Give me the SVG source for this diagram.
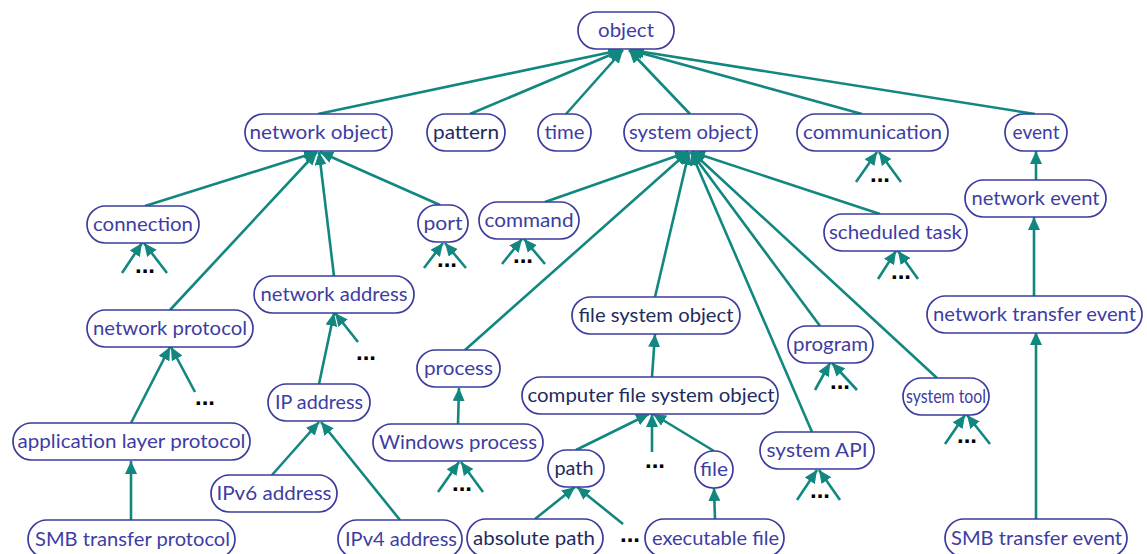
<svg xmlns="http://www.w3.org/2000/svg" width="1147" height="554" viewBox="0 0 1147 554">
  <style>
    .node rect { fill: #ffffff; stroke: #3b3b9e; stroke-width: 1.7; }
    .node text { font-family: Lato, "Open Sans", sans-serif; font-size: 20px; fill: #3d3da3; text-anchor: middle; }
    .node.dark text { fill: #1e2b5e; }
    .edges line { stroke: #12877f; stroke-width: 2.6; marker-end: url(#arrow); }
    .more { font-family: "Liberation Sans", sans-serif; font-size: 24px; font-weight: bold; fill: #000000; text-anchor: middle; }
  </style>
  <defs>
    <marker id="arrow" markerUnits="userSpaceOnUse" markerWidth="14" markerHeight="12" refX="13" refY="6" orient="auto">
      <path d="M0,0 L13,6 L0,12 z" fill="#12877f"/>
    </marker>
  </defs>
  <rect width="1147" height="554" fill="#ffffff"/>

  <g class="edges">
    <!-- to object -->
    <line x1="318" y1="114" x2="621" y2="50"/>
    <line x1="470" y1="114" x2="622" y2="50"/>
    <line x1="566" y1="114" x2="623" y2="50"/>
    <line x1="690" y1="114" x2="629" y2="50"/>
    <line x1="862" y1="114" x2="630" y2="50"/>
    <line x1="1035" y1="114" x2="631" y2="50"/>
    <!-- to network object -->
    <line x1="145" y1="206" x2="317" y2="152"/>
    <line x1="170" y1="310" x2="317" y2="152"/>
    <line x1="334" y1="276" x2="319" y2="152"/>
    <line x1="440" y1="205" x2="320" y2="152"/>
    <!-- to system object -->
    <line x1="545" y1="202" x2="688" y2="152"/>
    <line x1="465" y1="350" x2="688" y2="152"/>
    <line x1="655" y1="297" x2="689" y2="152"/>
    <line x1="820" y1="326" x2="691" y2="152"/>
    <line x1="812" y1="432" x2="691" y2="152"/>
    <line x1="937" y1="378" x2="692" y2="152"/>
    <line x1="880" y1="214" x2="692" y2="152"/>
    <!-- event chain -->
    <line x1="1036" y1="180" x2="1036" y2="151"/>
    <line x1="1034" y1="296" x2="1034" y2="217"/>
    <line x1="1036" y1="519" x2="1036" y2="332"/>
    <!-- network branch -->
    <line x1="131" y1="423" x2="170" y2="347"/>
    <line x1="195" y1="392" x2="171" y2="347"/>
    <line x1="131" y1="520" x2="131" y2="461"/>
    <line x1="319" y1="384" x2="334" y2="313"/>
    <line x1="358" y1="342" x2="335" y2="313"/>
    <line x1="272" y1="475" x2="319" y2="422"/>
    <line x1="400" y1="520" x2="321" y2="422"/>
    <!-- system branch -->
    <line x1="458" y1="424" x2="459" y2="388"/>
    <line x1="652" y1="377" x2="655" y2="334"/>
    <line x1="576" y1="450" x2="649" y2="414"/>
    <line x1="652" y1="452" x2="652" y2="414"/>
    <line x1="714" y1="451" x2="653" y2="414"/>
    <line x1="535" y1="519" x2="575" y2="487"/>
    <line x1="623" y1="524" x2="577" y2="487"/>
    <line x1="715" y1="519" x2="714" y2="488"/>
    <!-- open subtrees -->
    <line x1="122" y1="273" x2="142" y2="243"/>
    <line x1="167" y1="273" x2="144" y2="243"/>
    <line x1="424" y1="268" x2="443" y2="243"/>
    <line x1="466" y1="268" x2="445" y2="243"/>
    <line x1="502" y1="264" x2="522" y2="239"/>
    <line x1="545" y1="264" x2="524" y2="239"/>
    <line x1="856" y1="182" x2="877" y2="152"/>
    <line x1="901" y1="182" x2="879" y2="152"/>
    <line x1="878" y1="279" x2="896" y2="251"/>
    <line x1="918" y1="279" x2="898" y2="251"/>
    <line x1="815" y1="390" x2="830" y2="363"/>
    <line x1="857" y1="390" x2="832" y2="363"/>
    <line x1="945" y1="444" x2="965" y2="415"/>
    <line x1="990" y1="444" x2="967" y2="415"/>
    <line x1="438" y1="492" x2="459" y2="462"/>
    <line x1="483" y1="492" x2="461" y2="462"/>
    <line x1="797" y1="500" x2="817" y2="470"/>
    <line x1="840" y1="500" x2="819" y2="470"/>
  </g>

  <g class="dots">
    <text class="more" x="145" y="273">...</text>
    <text class="more" x="447" y="267">...</text>
    <text class="more" x="523" y="263">...</text>
    <text class="more" x="880" y="182">...</text>
    <text class="more" x="901" y="279">...</text>
    <text class="more" x="366" y="360">...</text>
    <text class="more" x="205" y="405">...</text>
    <text class="more" x="840" y="389">...</text>
    <text class="more" x="967" y="443">...</text>
    <text class="more" x="462" y="491">...</text>
    <text class="more" x="820" y="498">...</text>
    <text class="more" x="655" y="468">...</text>
    <text class="more" x="630" y="542">...</text>
  </g>

  <g id="object" class="node"><rect x="578" y="12" width="96" height="37" rx="18.5"/><text x="626" y="37" textLength="56" lengthAdjust="spacingAndGlyphs">object</text></g>
  <g id="network-object" class="node"><rect x="245" y="114" width="147" height="37" rx="18.5"/><text x="318.5" y="139" textLength="138" lengthAdjust="spacingAndGlyphs">network object</text></g>
  <g id="pattern" class="node dark"><rect x="427" y="114" width="78" height="37" rx="18.5"/><text x="466" y="139" textLength="66" lengthAdjust="spacingAndGlyphs">pattern</text></g>
  <g id="time" class="node"><rect x="538" y="114" width="53" height="37" rx="18.5"/><text x="564.5" y="139" textLength="40" lengthAdjust="spacingAndGlyphs">time</text></g>
  <g id="system-object" class="node"><rect x="624" y="114" width="133" height="37" rx="18.5"/><text x="690.5" y="139" textLength="123" lengthAdjust="spacingAndGlyphs">system object</text></g>
  <g id="communication" class="node"><rect x="797" y="114" width="151" height="37" rx="18.5"/><text x="872.5" y="139" textLength="139" lengthAdjust="spacingAndGlyphs">communication</text></g>
  <g id="event" class="node"><rect x="1005" y="114" width="62" height="37" rx="18.5"/><text x="1036" y="139" textLength="47" lengthAdjust="spacingAndGlyphs">event</text></g>
  <g id="connection" class="node"><rect x="87" y="206" width="112" height="37" rx="18.5"/><text x="143" y="231" textLength="100" lengthAdjust="spacingAndGlyphs">connection</text></g>
  <g id="port" class="node"><rect x="418" y="205" width="50" height="37" rx="18.5"/><text x="443" y="230" textLength="39" lengthAdjust="spacingAndGlyphs">port</text></g>
  <g id="command" class="node"><rect x="479" y="202" width="100" height="37" rx="18.5"/><text x="529" y="227" textLength="89" lengthAdjust="spacingAndGlyphs">command</text></g>
  <g id="scheduled-task" class="node"><rect x="824" y="214" width="143" height="37" rx="18.5"/><text x="895.5" y="239" textLength="133" lengthAdjust="spacingAndGlyphs">scheduled task</text></g>
  <g id="network-event" class="node"><rect x="965" y="180" width="141" height="37" rx="18.5"/><text x="1035.5" y="205" textLength="128" lengthAdjust="spacingAndGlyphs">network event</text></g>
  <g id="network-address" class="node"><rect x="254" y="276" width="160" height="37" rx="18.5"/><text x="334" y="301" textLength="147" lengthAdjust="spacingAndGlyphs">network address</text></g>
  <g id="network-protocol" class="node"><rect x="87" y="310" width="166" height="37" rx="18.5"/><text x="170" y="335" textLength="154" lengthAdjust="spacingAndGlyphs">network protocol</text></g>
  <g id="network-transfer-event" class="node"><rect x="927" y="296" width="215" height="37" rx="18.5"/><text x="1034.5" y="321" textLength="203" lengthAdjust="spacingAndGlyphs">network transfer event</text></g>
  <g id="file-system-object" class="node dark"><rect x="572" y="297" width="168" height="37" rx="18.5"/><text x="656" y="322" textLength="155" lengthAdjust="spacingAndGlyphs">file system object</text></g>
  <g id="program" class="node"><rect x="788" y="326" width="85" height="37" rx="18.5"/><text x="830.5" y="351" textLength="75" lengthAdjust="spacingAndGlyphs">program</text></g>
  <g id="process" class="node"><rect x="417" y="350" width="83" height="37" rx="18.5"/><text x="458.5" y="375" textLength="69" lengthAdjust="spacingAndGlyphs">process</text></g>
  <g id="system-tool" class="node"><rect x="903" y="378" width="86" height="37" rx="18.5"/><text x="946" y="403" style="font-size:19px" textLength="80" lengthAdjust="spacingAndGlyphs">system tool</text></g>
  <g id="ip-address" class="node"><rect x="268" y="384" width="102" height="37" rx="18.5"/><text x="319" y="409" textLength="88" lengthAdjust="spacingAndGlyphs">IP address</text></g>
  <g id="computer-file-system-object" class="node dark"><rect x="522" y="377" width="256" height="37" rx="18.5"/><text x="651" y="402" textLength="247" lengthAdjust="spacingAndGlyphs">computer file system object</text></g>
  <g id="application-layer-protocol" class="node"><rect x="13" y="423" width="237" height="37" rx="18.5"/><text x="131.5" y="448" textLength="228" lengthAdjust="spacingAndGlyphs">application layer protocol</text></g>
  <g id="windows-process" class="node"><rect x="373" y="424" width="170" height="37" rx="18.5"/><text x="458" y="449" textLength="158" lengthAdjust="spacingAndGlyphs">Windows process</text></g>
  <g id="system-api" class="node"><rect x="760" y="432" width="114" height="37" rx="18.5"/><text x="817" y="457" textLength="101" lengthAdjust="spacingAndGlyphs">system API</text></g>
  <g id="path" class="node dark"><rect x="548" y="450" width="56" height="37" rx="18.5"/><text x="574" y="475" textLength="39" lengthAdjust="spacingAndGlyphs">path</text></g>
  <g id="file" class="node"><rect x="695" y="451" width="38" height="37" rx="18.5"/><text x="714" y="476" textLength="28" lengthAdjust="spacingAndGlyphs">file</text></g>
  <g id="ipv6-address" class="node"><rect x="211" y="475" width="126" height="37" rx="18.5"/><text x="274" y="500" textLength="115" lengthAdjust="spacingAndGlyphs">IPv6 address</text></g>
  <g id="smb-transfer-protocol" class="node"><rect x="28" y="520" width="207" height="38" rx="19"/><text x="132.5" y="546" textLength="195" lengthAdjust="spacingAndGlyphs">SMB transfer protocol</text></g>
  <g id="ipv4-address" class="node"><rect x="338" y="520" width="124" height="38" rx="19"/><text x="401" y="546" textLength="112" lengthAdjust="spacingAndGlyphs">IPv4 address</text></g>
  <g id="absolute-path" class="node dark"><rect x="467" y="519" width="136" height="38" rx="19"/><text x="534" y="545" textLength="122" lengthAdjust="spacingAndGlyphs">absolute path</text></g>
  <g id="executable-file" class="node"><rect x="645" y="519" width="139" height="38" rx="19"/><text x="715.5" y="545" textLength="127" lengthAdjust="spacingAndGlyphs">executable file</text></g>
  <g id="smb-transfer-event" class="node"><rect x="945" y="519" width="182" height="38" rx="19"/><text x="1036.5" y="545" textLength="171" lengthAdjust="spacingAndGlyphs">SMB transfer event</text></g>
</svg>
